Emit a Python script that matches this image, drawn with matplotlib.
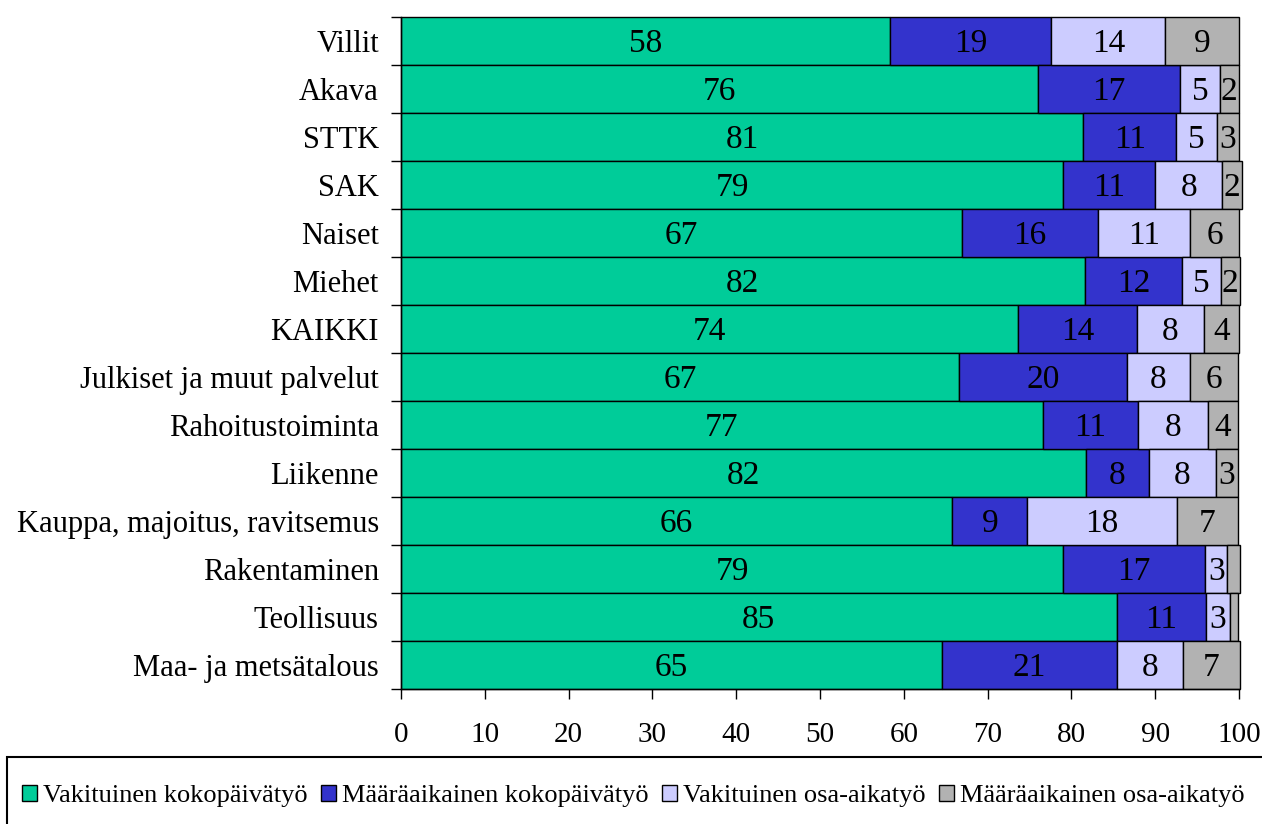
import matplotlib
matplotlib.use("Agg")
import matplotlib.pyplot as plt
import numpy as np
from matplotlib.patches import Rectangle

plt.rcParams["font.family"] = "Liberation Serif"

# ryhmät ylhäältä alas
ryhmat = ["Villit", "Akava", "STTK", "SAK", "Naiset", "Miehet", "KAIKKI",
          "Julkiset ja muut palvelut", "Rahoitustoiminta", "Liikenne",
          "Kauppa, majoitus, ravitsemus", "Rakentaminen", "Teollisuus",
          "Maa- ja metsätalous"]

vak_koko = [58.3, 76.0, 81.4, 79.0, 66.9, 81.6, 73.6, 66.6, 76.6, 81.7, 65.8, 79.0, 85.4, 64.6]
maar_koko = [19.3, 17.0, 11.1, 11.0, 16.3, 11.6, 14.2, 20.0, 11.3, 7.6, 8.9, 17.0, 10.7, 20.8]
vak_osa = [13.6, 4.7, 4.9, 8.0, 11.0, 4.6, 8.0, 7.6, 8.4, 7.9, 17.9, 2.6, 2.8, 7.9]
maar_osa = [8.8, 2.3, 2.6, 2.4, 5.8, 2.3, 4.2, 5.7, 3.6, 2.7, 7.3, 1.5, 1.0, 6.8]

sarjat = ["Vakituinen kokopäivätyö", "Määräaikainen kokopäivätyö",
          "Vakituinen osa-aikatyö", "Määräaikainen osa-aikatyö"]
varit = ["#00CC99", "#3333CC", "#CCCCFF", "#B2B2B2"]

fig = plt.figure(figsize=(12.62, 8.24), dpi=100)
ax = fig.add_axes([401/1262, 1 - 689/824, 838/1262, 672/824])

y = np.arange(len(ryhmat))
left = np.zeros(len(ryhmat))
for arvot, nimi, vari in zip([vak_koko, maar_koko, vak_osa, maar_osa], sarjat, varit):
    arvot = np.array(arvot)
    ax.barh(y, arvot, left=left, height=1.0, color=vari, edgecolor="black",
            linewidth=1.0, label=nimi, clip_on=False)
    for yi, l, v in zip(y, left, arvot):
        if v >= 2:
            ax.text(l + v / 2, yi + 0.05, f"{round(v)}", ha="center", va="center",
                    fontsize=24)
    left += arvot

ax.set_xlim(0, 100)
ax.set_ylim(len(ryhmat) - 0.5, -0.5)
ax.set_xticks(np.arange(0, 101, 10))
ax.tick_params(axis="x", labelsize=21, length=7, width=1, direction="out", pad=17)
ax.set_yticks(y)
ax.set_yticklabels(ryhmat)
ax.tick_params(axis="y", which="major", length=0, labelsize=22, pad=16)
ax.set_yticks(np.arange(-0.5, len(ryhmat)), minor=True)
ax.tick_params(axis="y", which="minor", length=7, width=1)
for s in ["top", "right"]:
    ax.spines[s].set_visible(False)
ax.spines["left"].set_linewidth(1.0)
ax.spines["bottom"].set_linewidth(1.0)

# selite laatikossa
fig.patches.append(Rectangle((7/1262, -0.05), 1.05, 1 - 757/824 + 0.05,
                             transform=fig.transFigure, fill=False,
                             edgecolor="black", linewidth=1.5))
kahvat, nimet = ax.get_legend_handles_labels()
fig.legend(kahvat, nimet, loc="center left", bbox_to_anchor=(9/1262, 1 - 796/824),
           ncol=4, frameon=False, fontsize=19, handlelength=0.55, handleheight=0.6,
           handletextpad=0.25, columnspacing=0.5, borderpad=0)

fig.savefig("out.png", dpi=100)
